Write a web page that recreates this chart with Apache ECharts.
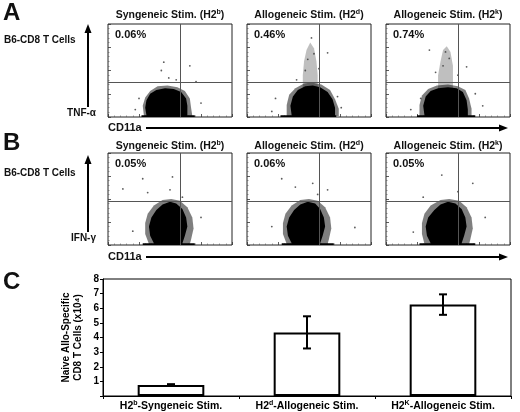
<!DOCTYPE html>
<html><head><meta charset="utf-8">
<script src="https://cdn.jsdelivr.net/npm/echarts@6/dist/echarts.min.js"></script>
<style>html,body{margin:0;padding:0;background:#fff}#c{width:520px;height:412px}</style>
</head><body><div id="c"></div>
<script>
// ---------- data ----------
const panelTitles = [['Syngeneic Stim. (H2','b',')'],['Allogeneic Stim. (H2','d',')'],['Allogeneic Stim. (H2','k',')']];
const pctA = ['0.06%','0.46%','0.74%'];
const pctB = ['0.05%','0.06%','0.05%'];
const gateX = 58;           // CD11a gate (% of axis)
const gateYA = 37;          // TNF-a gate
const gateYB = 48;          // IFN-g gate

// dense cell clouds (outline vertices, axis %)
const coreA1 = [[27,0],[27,2],[31,2],[30,10],[31,18],[34,25],[39,29],[46,31],[53,30],[59,27],[63,20],[64,12],[64,2],[70,2],[70,0]];
const haloA1 = [[29,1],[28,12],[30,21],[34,28],[40,33],[48,34],[56,32],[62,28],[66,20],[67,10],[68,1]];
const coreA2 = [[27,0],[27,2],[36,2],[35,12],[37,22],[41,29],[47,33],[53,34],[59,32],[65,27],[69,19],[71,10],[71,2],[72,2],[72,0]];
const haloA2 = [[32,1],[32,13],[34,24],[39,31],[46,36],[52,37],[60,35],[67,29],[71,19],[74,9],[74,1]];
const plumeA2 = [[45,30],[45,45],[46,60],[48,72],[51,80],[54,74],[56,60],[57,45],[57,30]];
const coreA3 = [[25,0],[25,2],[31,2],[30,12],[32,22],[36,28],[42,31],[50,32],[57,31],[62,27],[65,18],[66,8],[66,2],[72,2],[72,0]];
const haloA3 = [[27,1],[27,13],[29,23],[34,30],[41,34],[50,35],[58,33],[64,29],[67,20],[69,9],[69,1]];
const plumeA3 = [[42,28],[42,45],[44,60],[46,72],[49,76],[52,70],[54,55],[54,40],[54,28]];
const coreB1 = [[28,0],[28,2],[37,2],[34,10],[33,20],[35,30],[39,38],[44,44],[50,47],[55,45],[60,39],[63,30],[64,20],[62,10],[60,2],[70,2],[70,0]];
const haloB1 = [[33,1],[30,12],[30,24],[32,34],[37,43],[44,49],[51,50],[58,48],[64,41],[68,30],[69,18],[67,6],[66,1]];
const coreB2 = [[28,0],[28,2],[36,2],[33,10],[32,20],[34,30],[38,38],[43,44],[49,47],[55,45],[59,39],[62,30],[63,20],[61,10],[59,2],[70,2],[70,0]];
const haloB2 = [[32,1],[29,12],[29,24],[31,34],[36,43],[43,49],[50,50],[57,48],[63,41],[67,30],[68,18],[66,6],[65,1]];
const coreB3 = [[27,0],[27,2],[36,2],[33,10],[32,20],[34,30],[39,38],[44,44],[50,47],[56,45],[61,39],[64,30],[65,20],[63,10],[61,2],[72,2],[72,0]];
const haloB3 = [[31,1],[29,12],[29,24],[31,34],[36,43],[44,49],[51,50],[59,48],[65,41],[69,30],[70,18],[68,6],[67,1]];

// scattered events (axis %)
const dotsA1 = [[45,59],[66,55],[43,50],[49,42],[71,38],[25,20],[75,15],[22,8],[55,40]];
const dotsA2 = [[65,69],[23,20],[73,22],[58,52],[40,40],[76,10],[20,6],[52,85],[49,62],[54,68],[47,50]];
const dotsA3 = [[35,72],[65,54],[28,20],[72,25],[58,45],[40,48],[20,8],[78,12],[48,70],[51,63],[46,55]];
const dotsB1 = [[28,72],[12,61],[52,74],[50,60],[32,57],[60,52],[75,30],[20,15]];
const dotsB2 = [[28,72],[39,63],[53,67],[65,60],[87,19],[20,20],[57,55]];
const dotsB3 = [[45,76],[70,67],[30,52],[58,58],[80,30],[22,14]];

// panel C bar chart
const barCats = [['H2','b','-Syngeneic Stim.'],['H2','d','-Allogeneic Stim.'],['H2','K','-Allogeneic Stim.']];
const barVals = [0.76, 4.35, 6.25];
const barErr = [0.05, 1.1, 0.7];

// ---------- layout ----------
const colLeft = [108, 247, 386];
const panelW = 124;
const rows = [{top:24, h:93}, {top:153, h:92}];
const FONT = '"Liberation Sans", Arial, sans-serif';

const panels = [
  {core:coreA1, halo:haloA1, plume:null, dots:dotsA1, gy:gateYA},
  {core:coreA2, halo:haloA2, plume:plumeA2, dots:dotsA2, gy:gateYA},
  {core:coreA3, halo:haloA3, plume:plumeA3, dots:dotsA3, gy:gateYA},
  {core:coreB1, halo:haloB1, plume:null, dots:dotsB1, gy:gateYB},
  {core:coreB2, halo:haloB2, plume:null, dots:dotsB2, gy:gateYB},
  {core:coreB3, halo:haloB3, plume:null, dots:dotsB3, gy:gateYB}
];

const grid = [], xAxis = [], yAxis = [], series = [];
panels.forEach((p, i) => {
  const r = rows[Math.floor(i/3)], c = i % 3;
  grid.push({left:colLeft[c], top:r.top, width:panelW, height:r.h, show:true, borderColor:'#222', borderWidth:1, backgroundColor:'#fff'});
  const ax = {min:0, max:100, interval:25, gridIndex:i, axisLine:{show:false}, axisLabel:{show:false}, splitLine:{show:false},
    axisTick:{show:true, inside:true, length:3, lineStyle:{color:'#333', width:0.8}},
    minorTick:{show:true, splitNumber:5, length:1.5, lineStyle:{color:'#555', width:0.6}}};
  xAxis.push(Object.assign({type:'value'}, ax));
  yAxis.push(Object.assign({type:'value'}, ax));
  const polySeries = (poly, fill) => ({
    type:'custom', xAxisIndex:i, yAxisIndex:i, silent:true, data:[[0,0]], encode:{x:0,y:1},
    renderItem:(params, api) => ({type:'polygon', shape:{points:poly.map(pt => api.coord(pt))}, style:{fill:fill}})
  });
  series.push(polySeries(p.halo, 'rgba(0,0,0,0.5)'));
  if (p.plume) series.push(polySeries(p.plume, 'rgba(0,0,0,0.25)'));
  series.push(polySeries(p.core, '#000'));
  series.push({type:'scatter', xAxisIndex:i, yAxisIndex:i, silent:true, symbolSize:1.8, itemStyle:{color:'#333'}, data:p.dots,
    markLine:{silent:true, symbol:'none', label:{show:false}, lineStyle:{color:'#555', width:1, type:'solid'},
      data:[{xAxis:gateX}, {yAxis:p.gy}]}});
});

// bar chart grid
grid.push({left:103, right:9, top:279, bottom:14, show:true, borderColor:'#000', borderWidth:1});
xAxis.push({type:'category', gridIndex:6, data:barCats.map(c => c.join('')),
  axisLine:{lineStyle:{color:'#000', width:1}}, axisTick:{show:true, length:3, lineStyle:{color:'#000'}},
  axisLabel:{margin:4, interval:0, color:'#000', formatter:(v, idx) => '{n|' + barCats[idx][0] + '}{s|' + barCats[idx][1] + '}{n|' + barCats[idx][2] + '}',
    rich:{n:{fontFamily:FONT, fontSize:10.5, fontWeight:'bold', color:'#000'}, s:{fontFamily:FONT, fontSize:7, fontWeight:'bold', color:'#000', verticalAlign:'top', padding:[0,0,6,0]}}}});
yAxis.push({type:'value', gridIndex:6, min:0, max:8, interval:1,
  name:'Naive Allo-Specific\nCD8 T Cells (x10⁴)', nameLocation:'middle', nameGap:19, nameRotate:90, nameMoveOverlap:false,
  nameTextStyle:{fontFamily:FONT, fontSize:10, fontWeight:'bold', color:'#000', lineHeight:12},
  axisLine:{show:true, lineStyle:{color:'#000', width:1}}, axisTick:{show:true, length:3, lineStyle:{color:'#000'}},
  splitLine:{show:false},
  axisLabel:{margin:4, fontFamily:FONT, fontSize:10, fontWeight:'bold', color:'#000', formatter:v => v === 0 ? '' : String(v)}});
series.push({type:'bar', xAxisIndex:6, yAxisIndex:6, data:barVals, barWidth:'49%', silent:true, z:2,
  itemStyle:{color:'#fff', borderColor:'#000', borderWidth:2}});
series.push({type:'custom', xAxisIndex:6, yAxisIndex:6, silent:true, z:10,
  data:barVals.map((v, k) => [k, v - barErr[k], v + barErr[k]]),
  encode:{x:0, y:[1,2]},
  renderItem:(params, api) => {
    const lo = api.coord([api.value(0), api.value(1)]), hi = api.coord([api.value(0), api.value(2)]);
    const cap = 4, st = {stroke:'#000', lineWidth:2};
    return {type:'group', children:[
      {type:'line', shape:{x1:lo[0], y1:lo[1], x2:hi[0], y2:hi[1]}, style:st},
      {type:'line', shape:{x1:lo[0]-cap, y1:lo[1], x2:lo[0]+cap, y2:lo[1]}, style:st},
      {type:'line', shape:{x1:hi[0]-cap, y1:hi[1], x2:hi[0]+cap, y2:hi[1]}, style:st}]};
  }});

// ---------- text & arrows ----------
const graphic = [];
const txt = (x, y, text, size, weight, align, extra) => graphic.push(Object.assign({type:'text', x:x, y:y, silent:true,
  style:{text:text, font:(weight||'normal') + ' ' + size + 'px ' + FONT, fill:'#111', textAlign:align||'left', textVerticalAlign:'middle'}}, extra||{}));
txt(3, 13, 'A', 24, 'bold');
txt(3, 143, 'B', 24, 'bold');
txt(3, 282, 'C', 24, 'bold');
txt(4, 40, 'B6-CD8 T Cells', 10, 'bold');
txt(4, 173, 'B6-CD8 T Cells', 10, 'bold');
[15, 146].forEach((ty, r) => {
  colLeft.forEach((lx, c) => {
    const t = panelTitles[c];
    graphic.push({type:'text', x:lx + panelW/2, y:ty, silent:true, style:{
      text:'{n|' + t[0] + '}{s|' + t[1] + '}{n|' + t[2] + '}', textAlign:'center', textVerticalAlign:'middle',
      rich:{n:{font:'bold 10.5px ' + FONT, fill:'#111'}, s:{font:'bold 7px ' + FONT, fill:'#111', verticalAlign:'top', padding:[0,0,6,0]}}}});
    const pct = r === 0 ? pctA[c] : pctB[c];
    txt(lx + 7, rows[r].top + 11, pct, 11, 'bold');
  });
});
// axis names & arrows
const arrowV = (x, y1, y2) => {
  graphic.push({type:'line', silent:true, shape:{x1:x, y1:y1, x2:x, y2:y2 + 8}, style:{stroke:'#000', lineWidth:2}});
  graphic.push({type:'polygon', silent:true, shape:{points:[[x-3.5, y2+9],[x+3.5, y2+9],[x, y2]]}, style:{fill:'#000'}});
};
const arrowH = (x1, x2, y) => {
  graphic.push({type:'line', silent:true, shape:{x1:x1, y1:y, x2:x2 - 8, y2:y}, style:{stroke:'#000', lineWidth:2}});
  graphic.push({type:'polygon', silent:true, shape:{points:[[x2-9, y-3.5],[x2-9, y+3.5],[x2, y]]}, style:{fill:'#000'}});
};
arrowV(88, 107, 24);
arrowV(88, 232, 155);
txt(96, 113, 'TNF-α', 10, 'bold', 'right');
txt(96, 238, 'IFN-γ', 10, 'bold', 'right');
txt(108, 128, 'CD11a', 11, 'bold');
txt(108, 257, 'CD11a', 11, 'bold');
arrowH(146, 508, 128);
arrowH(146, 508, 257);

const chart = echarts.init(document.getElementById('c'), null, {renderer:'canvas'});
chart.setOption({animation:false, backgroundColor:'#fff', grid:grid, xAxis:xAxis, yAxis:yAxis, series:series, graphic:graphic});
</script></body></html>
